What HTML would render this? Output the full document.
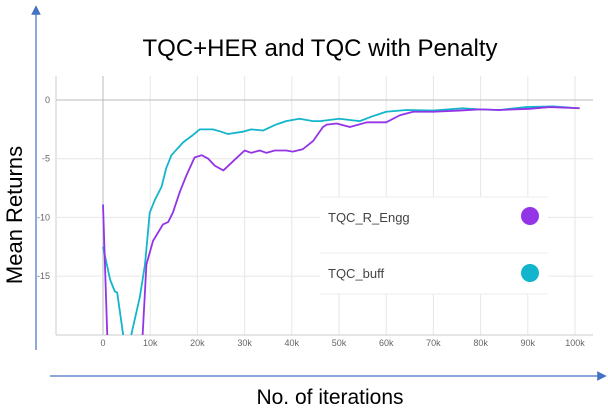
<!DOCTYPE html>
<html><head><meta charset="utf-8"><style>
body{margin:0;background:#fff;font-family:"Liberation Sans",sans-serif}
</style></head><body>
<svg id="c" width="608" height="411" viewBox="0 0 608 411" xmlns="http://www.w3.org/2000/svg">
<defs><clipPath id="clip"><rect x="56" y="76" width="537" height="259"/></clipPath>
<marker id="ah" markerWidth="8" markerHeight="8" refX="4" refY="4" orient="auto"><path d="M0,0 L8,4 L0,8 z" fill="#4472c4"/></marker></defs>
<text x="320" y="56" text-anchor="middle" font-size="24" fill="#000">TQC+HER and TQC with Penalty</text>
<g id="grid"></g>
<g id="series" clip-path="url(#clip)"></g>
<line x1="36" y1="350" x2="36" y2="10" stroke="#4472c4" stroke-width="1.2" marker-end="url(#ah)"/>
<line x1="50" y1="376" x2="602" y2="376" stroke="#4472c4" stroke-width="1.2" marker-end="url(#ah)"/>
<text transform="translate(22,215) rotate(-90)" text-anchor="middle" font-size="22">Mean Returns</text>
<text x="330" y="404" text-anchor="middle" font-size="21">No. of iterations</text>
<g>
<rect x="320" y="197" width="228" height="97" fill="#fff"/>
<line x1="320" y1="197" x2="548" y2="197" stroke="#eee"/>
<line x1="320" y1="253" x2="548" y2="253" stroke="#eee"/>
<line x1="320" y1="294" x2="548" y2="294" stroke="#eee"/>
<text x="328" y="222" font-size="13" fill="#444">TQC_R_Engg</text>
<circle cx="530" cy="216" r="9" fill="#9334e6"/>
<text x="328" y="278" font-size="13" fill="#444">TQC_buff</text>
<circle cx="530" cy="273" r="9" fill="#12b5cb"/>
</g>
</svg>
<script>
const xTicks=[0,10,20,30,40,50,60,70,80,90,100];
const yTicks=[0,-5,-10,-15];
const buffX=[0,1.5,2.5,3,3.5,4.2,5,6.1,7.8,8.9,9.9,11,12.4,13.4,14.5,17,19,20.5,23.3,25,26.5,29.6,31.4,33.9,36.6,38.8,41.6,44.5,46,50,54.4,57,60,64.3,70,76.2,79.8,84,89.7,95.4,100.7];
const buffY=[-12.5,-15.3,-16.3,-16.4,-17.8,-19.8,-22,-19.8,-16.8,-14,-9.6,-8.5,-7.4,-5.8,-4.7,-3.6,-3,-2.5,-2.5,-2.7,-2.9,-2.7,-2.5,-2.6,-2.1,-1.8,-1.6,-1.8,-1.8,-1.6,-1.8,-1.4,-1.0,-0.85,-0.9,-0.7,-0.8,-0.85,-0.6,-0.55,-0.7];
const enggX=[0,0.9,4,8.4,9.2,10.6,12.7,13.8,14.8,16.3,17.7,19.4,20.9,22.3,23.7,25.5,27.6,30,31.4,33.2,34.6,36.4,38.8,40.2,42.3,44.5,46.6,47.4,49.5,52.3,55.9,60,62.9,65.7,70,75.5,79.8,84,90.4,94.6,101];
const enggY=[-8.9,-20,-24,-20,-14,-12,-10.6,-10.4,-9.6,-7.8,-6.4,-4.9,-4.7,-5,-5.6,-6,-5.2,-4.3,-4.5,-4.3,-4.5,-4.3,-4.3,-4.4,-4.2,-3.5,-2.3,-2.1,-2.0,-2.3,-1.9,-1.9,-1.3,-1.0,-1.0,-0.9,-0.8,-0.85,-0.75,-0.6,-0.7];
const NS='http://www.w3.org/2000/svg';
const X=k=>103+k*4.72, Y=v=>100-v*11.74;
const grid=document.getElementById('grid'), ser=document.getElementById('series');
function mk(tag,a,p){const e=document.createElementNS(NS,tag);for(const k in a)e.setAttribute(k,a[k]);p.appendChild(e);return e;}
const lb=mk('line',{x1:56,x2:56,y1:76,y2:335,stroke:'#ccc'},grid);


xTicks.forEach(t=>{
 const l=mk('line',{x1:X(t),x2:X(t),y1:76,y2:335,stroke:t===0?'#bbb':'#e6e6e6'},grid);
 
 
 const tx=mk('text',{x:X(t),y:346,'text-anchor':'middle','font-size':9,fill:'#666'},grid);
 tx.textContent=t===0?'0':t+'k';
 
 
});
yTicks.forEach(t=>{
 const l=mk('line',{x1:56,x2:593,y1:Y(t),y2:Y(t),stroke:t===0?'#bbb':'#e6e6e6'},grid);
 
 
 const tx=mk('text',{x:50,y:Y(t)+3,'text-anchor':'end','font-size':9,fill:'#666'},grid);
 tx.textContent=String(t);
 
 
});
const b=mk('line',{x1:56,x2:593,y1:335,y2:335,stroke:'#ccc'},grid);


function line(xs,ys,c,name){
 const p=mk('polyline',{points:xs.map((x,i)=>X(x)+','+Y(ys[i])).join(' '),fill:'none',stroke:c,'stroke-width':1.8,'stroke-linejoin':'round'},ser);
 
 
}
line(buffX,buffY,'#12b5cb','series-tqc-buff');
line(enggX,enggY,'#9334e6','series-tqc-r-engg');
</script>
</body></html>
